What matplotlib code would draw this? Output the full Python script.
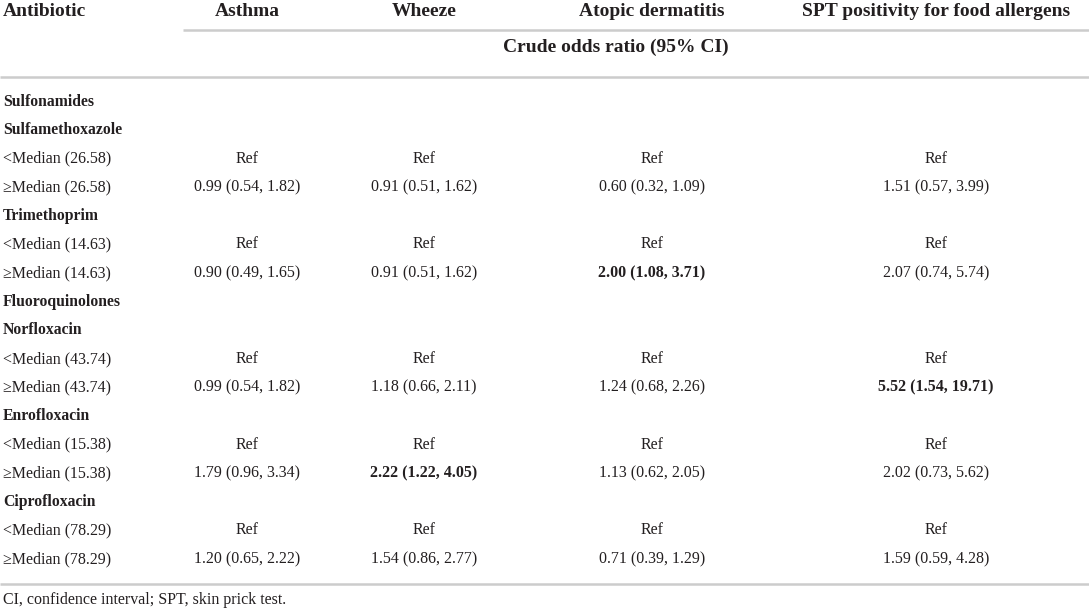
import matplotlib.pyplot as plt

# Table content
outcomes = ["Asthma", "Wheeze", "Atopic dermatitis", "SPT positivity for food allergens"]
subheader = "Crude odds ratio (95% CI)"

row_labels = [
    "Sulfonamides",
    "Sulfamethoxazole",
    "<Median (26.58)",
    "\u2265Median (26.58)",
    "Trimethoprim",
    "<Median (14.63)",
    "\u2265Median (14.63)",
    "Fluoroquinolones",
    "Norfloxacin",
    "<Median (43.74)",
    "\u2265Median (43.74)",
    "Enrofloxacin",
    "<Median (15.38)",
    "\u2265Median (15.38)",
    "Ciprofloxacin",
    "<Median (78.29)",
    "\u2265Median (78.29)",
]
# rows that are group / drug headings (bold, no values)
heading_rows = [0, 1, 4, 7, 8, 11, 14]

asthma = ["", "", "Ref", "0.99 (0.54, 1.82)", "", "Ref", "0.90 (0.49, 1.65)", "", "", "Ref",
          "0.99 (0.54, 1.82)", "", "Ref", "1.79 (0.96, 3.34)", "", "Ref", "1.20 (0.65, 2.22)"]
wheeze = ["", "", "Ref", "0.91 (0.51, 1.62)", "", "Ref", "0.91 (0.51, 1.62)", "", "", "Ref",
          "1.18 (0.66, 2.11)", "", "Ref", "2.22 (1.22, 4.05)", "", "Ref", "1.54 (0.86, 2.77)"]
atopic = ["", "", "Ref", "0.60 (0.32, 1.09)", "", "Ref", "2.00 (1.08, 3.71)", "", "", "Ref",
          "1.24 (0.68, 2.26)", "", "Ref", "1.13 (0.62, 2.05)", "", "Ref", "0.71 (0.39, 1.29)"]
spt = ["", "", "Ref", "1.51 (0.57, 3.99)", "", "Ref", "2.07 (0.74, 5.74)", "", "", "Ref",
       "5.52 (1.54, 19.71)", "", "Ref", "2.02 (0.73, 5.62)", "", "Ref", "1.59 (0.59, 4.28)"]
# significant cells shown in bold: (row index, column index)
bold_cells = [(6, 2), (10, 3), (13, 1)]

footnote = "CI, confidence interval; SPT, skin prick test."

columns = [asthma, wheeze, atopic, spt]

TEXT = "#231f20"
RULE = "#cccccc"
FONT = ["Liberation Serif", "DejaVu Serif"]

fig = plt.figure(figsize=(10.89, 6.12), dpi=100)
ax = fig.add_axes([0, 0, 1, 1])
ax.set_xlim(0, 1089)
ax.set_ylim(612, 0)
ax.axis("off")

col_x = [247, 424, 652, 936]
label_x = 3
row_y0 = 99.5
row_step = 28.6

# header
ax.text(label_x, 11, "Antibiotic", ha="left", va="center", fontsize=14, fontweight="bold",
        color=TEXT, family=FONT)
for x, name in zip(col_x, outcomes):
    ax.text(x, 11, name, ha="center", va="center", fontsize=14, fontweight="bold",
            color=TEXT, family=FONT)
ax.plot([183, 1089], [30, 30], color=RULE, lw=1.8, solid_capstyle="butt")
ax.text(616, 47, subheader, ha="center", va="center", fontsize=14, fontweight="bold",
        color=TEXT, family=FONT)
ax.plot([0, 1089], [77, 77], color=RULE, lw=1.8, solid_capstyle="butt")

# body
for i, label in enumerate(row_labels):
    y = row_y0 + i * row_step
    heading = i in heading_rows
    ax.text(label_x, y, label, ha="left", va="center_baseline", fontsize=11.3 if heading else 11.5,
            fontweight="bold" if heading else "normal", color=TEXT, family=FONT)
    for j, col in enumerate(columns):
        val = col[i]
        if not val:
            continue
        w = "bold" if (i, j) in bold_cells else "normal"
        ax.text(col_x[j], y, val, ha="center", va="center_baseline", fontsize=11.5, fontweight=w,
                color=TEXT, family=FONT)

ax.plot([0, 1089], [584, 584], color=RULE, lw=1.8, solid_capstyle="butt")
ax.text(label_x, 598, footnote, ha="left", va="center_baseline", fontsize=11.5, color=TEXT,
        family=FONT)

fig.savefig("out.png", dpi=100, facecolor="white")
